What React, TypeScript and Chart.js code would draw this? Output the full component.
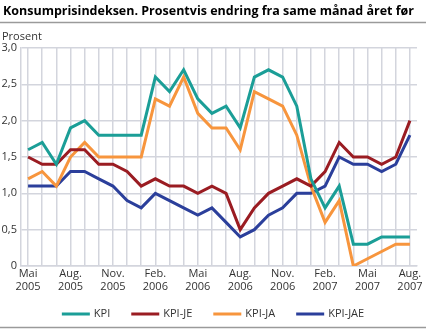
import React, { useEffect, useRef } from "react";
import { Chart, registerables } from "chart.js";

Chart.register(...registerables);

const TITLE = "Konsumprisindeksen. Prosentvis endring fra same månad året før";
const UNIT = "Prosent";

const categories = [
  "Mai 2005", "Juni 2005", "Juli 2005", "Aug. 2005", "Sep. 2005", "Okt. 2005", "Nov. 2005", "Des. 2005",
  "Jan. 2006", "Feb. 2006", "Mars 2006", "Apr. 2006", "Mai 2006", "Juni 2006", "Juli 2006", "Aug. 2006",
  "Sep. 2006", "Okt. 2006", "Nov. 2006", "Des. 2006", "Jan. 2007", "Feb. 2007", "Mars 2007", "Apr. 2007",
  "Mai 2007", "Juni 2007", "Juli 2007", "Aug. 2007",
];

const kpi = [1.6, 1.7, 1.4, 1.9, 2.0, 1.8, 1.8, 1.8, 1.8, 2.6, 2.4, 2.7, 2.3, 2.1, 2.2, 1.9, 2.6, 2.7, 2.6, 2.2, 1.2, 0.8, 1.1, 0.3, 0.3, 0.4, 0.4, 0.4];
const kpiJE = [1.5, 1.4, 1.4, 1.6, 1.6, 1.4, 1.4, 1.3, 1.1, 1.2, 1.1, 1.1, 1.0, 1.1, 1.0, 0.5, 0.8, 1.0, 1.1, 1.2, 1.1, 1.3, 1.7, 1.5, 1.5, 1.4, 1.5, 2.0];
const kpiJA = [1.2, 1.3, 1.1, 1.5, 1.7, 1.5, 1.5, 1.5, 1.5, 2.3, 2.2, 2.6, 2.1, 1.9, 1.9, 1.6, 2.4, 2.3, 2.2, 1.8, 1.1, 0.6, 0.9, 0.0, 0.1, 0.2, 0.3, 0.3];
const kpiJAE = [1.1, 1.1, 1.1, 1.3, 1.3, 1.2, 1.1, 0.9, 0.8, 1.0, 0.9, 0.8, 0.7, 0.8, 0.6, 0.4, 0.5, 0.7, 0.8, 1.0, 1.0, 1.1, 1.5, 1.4, 1.4, 1.3, 1.4, 1.8];

const seriesNames = ["KPI", "KPI-JE", "KPI-JA", "KPI-JAE"];
const seriesColors = ["#1b9e97", "#9a1c22", "#f7953d", "#2b3f9b"];

const FONT = "'Open Sans', 'Noto Sans', sans-serif";
const GRID = "#d3d5dd";

const decorPlugin = {
  id: "decor",
  afterDraw(chart: any) {
    const ctx = chart.ctx;
    const W = chart.width;
    ctx.save();
    // title
    let size = 14;
    ctx.font = `bold ${size}px ${FONT}`;
    while (ctx.measureText(TITLE).width > 414 && size > 9) {
      size -= 0.25;
      ctx.font = `bold ${size}px ${FONT}`;
    }
    ctx.fillStyle = "#000";
    ctx.textBaseline = "alphabetic";
    ctx.textAlign = "left";
    ctx.fillText(TITLE, 3, 15);
    // rules
    ctx.strokeStyle = "#9a9a9a";
    ctx.lineWidth = 1.5;
    ctx.beginPath();
    ctx.moveTo(0, 22.5);
    ctx.lineTo(W, 22.5);
    ctx.moveTo(0, 327.5);
    ctx.lineTo(W, 327.5);
    ctx.stroke();
    // unit
    ctx.font = `11px ${FONT}`;
    ctx.fillStyle = "#333";
    ctx.fillText(UNIT, 2, 40);
    // legend
    const ds = chart.data.datasets;
    const boxW = 28;
    const gap = 4;
    const spacing = 21;
    ctx.font = `11px ${FONT}`;
    const widths = ds.map((d: any) => boxW + gap + ctx.measureText(d.label).width);
    const total = widths.reduce((a: number, b: number) => a + b, 0) + spacing * (ds.length - 1);
    let x = (W - total) / 2;
    const y = 314;
    ds.forEach((d: any, i: number) => {
      ctx.fillStyle = d.borderColor;
      ctx.fillRect(x, y - 1.5, boxW, 3);
      ctx.fillStyle = "#333";
      ctx.textBaseline = "middle";
      ctx.fillText(d.label, x + boxW + gap, y);
      x += widths[i] + spacing;
    });
    ctx.restore();
  },
};

export default function App() {
  const ref = useRef<HTMLCanvasElement>(null);
  useEffect(() => {
    document.body.style.margin = "0";
    const datasets = [kpi, kpiJE, kpiJA, kpiJAE].map((arr, i) => ({
      label: seriesNames[i],
      data: arr,
      borderColor: seriesColors[i],
      backgroundColor: seriesColors[i],
      borderWidth: 3,
      pointRadius: 0,
      tension: 0,
      fill: false,
    }));
    const chart = new Chart(ref.current!, {
      type: "line",
      data: { labels: categories, datasets },
      options: {
        animation: false,
        responsive: false,
        devicePixelRatio: 1,
        layout: { padding: { top: 48, right: 9, bottom: 34, left: 0 } },
        plugins: { legend: { display: false }, title: { display: false }, tooltip: { enabled: false } },
        scales: {
          x: {
            offset: true,
            grid: { color: GRID, lineWidth: 1.5, drawTicks: false, offset: false },
            border: { color: GRID, width: 1.5 },
            ticks: {
              autoSkip: false,
              maxRotation: 0,
              padding: 2,
              color: "#333",
              font: { family: FONT, size: 11, lineHeight: 1.15 },
              callback: (_v: any, i: number) => (i % 3 === 0 ? categories[i].split(" ") : ""),
            },
            afterFit: (s: any) => { s.height = 30; },
          },
          y: {
            min: 0,
            max: 3,
            grid: { color: GRID, lineWidth: 1.5, drawTicks: false },
            border: { color: GRID, width: 1.5 },
            ticks: {
              stepSize: 0.5,
              padding: 4,
              color: "#333",
              font: { family: FONT, size: 11 },
              callback: (v: any) => (v === 0 ? "0" : Number(v).toFixed(1).replace(".", ",")),
            },
            afterFit: (s: any) => { s.width = 21; },
          },
        },
      },
      plugins: [decorPlugin],
    });
    return () => chart.destroy();
  }, []);
  return (
    <div style={{ width: 426, height: 330 }}>
      <canvas ref={ref} width={426} height={330} style={{ display: "block", width: 426, height: 330 }} />
    </div>
  );
}
